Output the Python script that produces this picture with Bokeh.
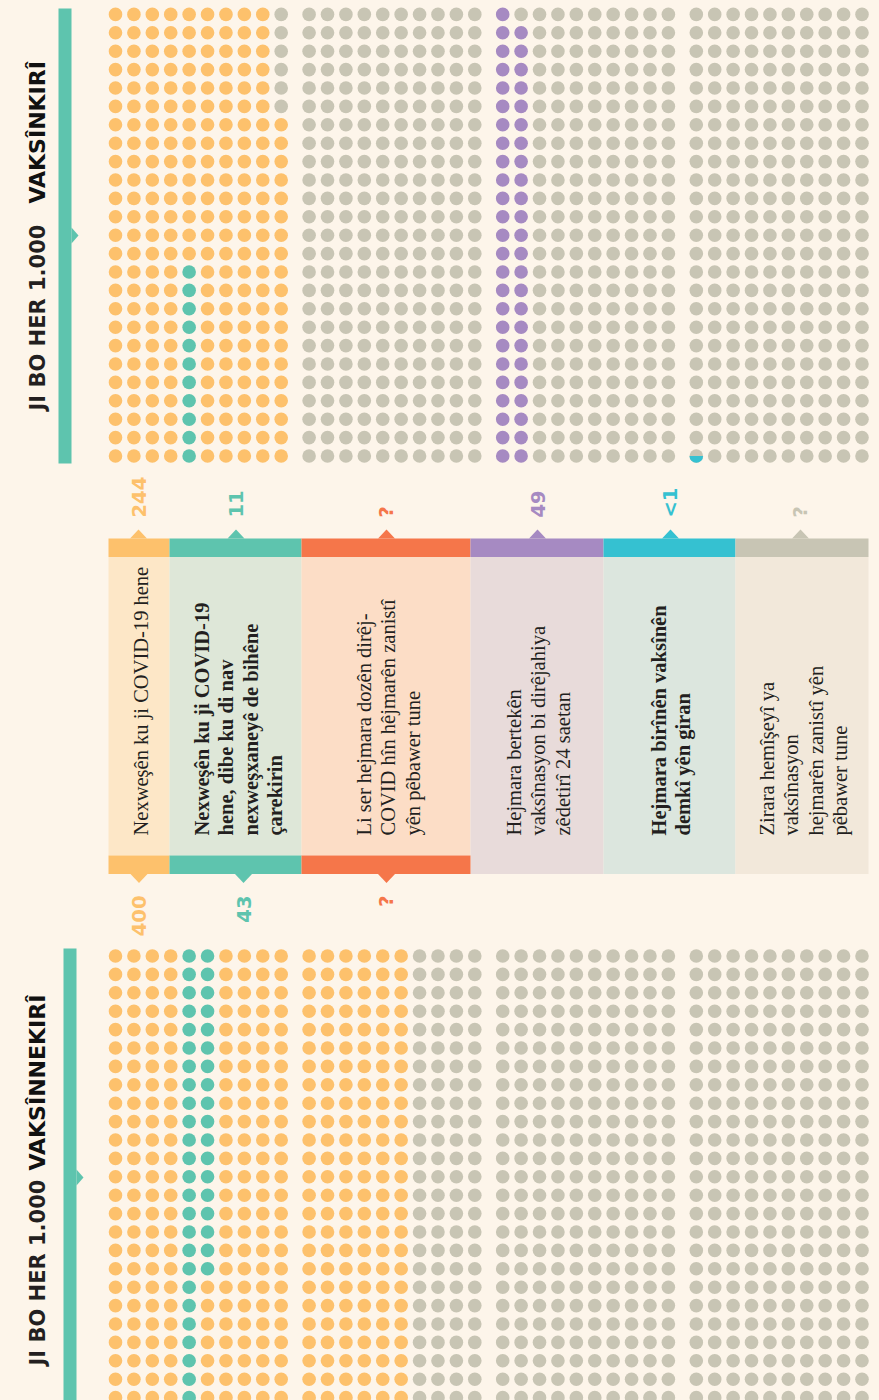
import numpy as np
from bokeh.plotting import figure
from bokeh.models import Range1d
from bokeh.core.properties import value
from bokeh.embed import file_html
from bokeh.resources import INLINE

# ---------------- data ----------------
title_lead = "JI BO HER 1.000"
group_names = ["VAKSÎNKIRÎ", "VAKSÎNNEKIRÎ"]

category_lines = [
    ["Nexweşên ku ji COVID-19 hene"],
    ["Nexweşên ku ji COVID-19", "hene, dibe ku di nav", "nexweşxaneyê de bihêne", "çarekirin"],
    ["Li ser hejmara dozên dirêj-", "COVID hîn hêjmarên zanistî", "yên pêbawer tune"],
    ["Hejmara bertekên", "vaksînasyon bi dirêjahiya", "zêdetirî 24 saetan"],
    ["Hejmara birînên vaksînên", "demkî yên giran"],
    ["Zirara hemîşeyî ya", "vaksînasyon", "hejmarên zanistî yên", "pêbawer tune"],
]
category_bold = [False, True, False, False, True, False]

vaccinated = [244, 11, None, 49, 0.5, None]
vaccinated_labels = ["244", "11", "?", "49", "<1", "?"]
unvaccinated = [400, 43, None]
unvaccinated_labels = ["400", "43", "?"]
PER = 1000

# ---------------- style ----------------
BG = "#FDF5EA"
GRAY = "#C8C5B4"
TEXT = "#231F20"
cat_colors = ["#FDC16C", "#5EC4AE", "#F5764A", "#A68AC2", "#35C1D1", "#C8C5B4"]
cat_tints = ["#FDE7C7", "#DEE7D8", "#FCDDC6", "#E8DBDA", "#DCE6DE", "#F2E8DA"]
SANS = value("DejaVu Sans")
SERIF = value("Liberation Serif")

# ---------------- layout (image pixel coordinates) ----------------
W, H = 879, 1400


def Y(v):
    return H - v


COLS, ROWS = 10, 25
X0, DX, GDX = 115.0, 18.41, 193.6
ROW_DY = 18.4
TOP_BAND_ROW = 455.5
BOT_BAND_ROW = 955.5
dot_start = [0, 100, None, 500, 750, None]


def dot_xy(i, top):
    g, w = divmod(i, COLS * ROWS)
    c, r = divmod(w, ROWS)
    x = X0 + g * GDX + c * DX
    y = TOP_BAND_ROW - r * ROW_DY if top else BOT_BAND_ROW + r * ROW_DY
    return x, Y(y)


def grid(values, top):
    cols = [GRAY] * PER
    partial = []
    for k, v in enumerate(values):
        if v is None or dot_start[k] is None:
            continue
        full = int(v)
        for i in range(dot_start[k], dot_start[k] + full):
            cols[i] = cat_colors[k]
        frac = v - full
        if frac > 0:
            partial.append((dot_start[k] + full, frac, cat_colors[k]))
    pts = [dot_xy(i, top) for i in range(PER)]
    xs = [pt[0] for pt in pts]
    ys = [pt[1] for pt in pts]
    return xs, ys, cols, partial


p = figure(width=W, height=H, output_backend="svg", toolbar_location=None,
           x_range=Range1d(0, W), y_range=Range1d(0, H), min_border=0)
p.xaxis.visible = False
p.yaxis.visible = False
p.grid.visible = False
p.outline_line_color = None
p.background_fill_color = BG
p.border_fill_color = BG

# dots
for vals, top in [(vaccinated, True), (unvaccinated, False)]:
    xs, ys, cols, partial = grid(vals, top)
    p.scatter(xs, ys, size=13.6, fill_color=cols, line_color=None)
    for idx, frac, col in partial:
        x, y = dot_xy(idx, top)
        center = -np.pi / 2 if top else np.pi / 2
        p.wedge(x=[x], y=[y], radius=6.8, radius_units="screen",
                start_angle=center - np.pi * frac, end_angle=center + np.pi * frac,
                fill_color=col, line_color=None)

# panels
edges = [108, 169, 301, 470, 603, 735, 868]
n_bot = len(unvaccinated)
STRIP_T0, STRIP_T1 = 538, 556.5
STRIP_B0, STRIP_B1 = 855, 873.5
p.quad(left=edges[:-1], right=edges[1:], top=Y(STRIP_T0), bottom=Y(STRIP_T1),
       fill_color=cat_colors, line_color=None)
p.quad(left=edges[:-1], right=edges[1:], top=Y(STRIP_T1),
       bottom=[Y(STRIP_B0) if k < n_bot else Y(STRIP_B1) for k in range(6)],
       fill_color=cat_tints, line_color=None)
p.quad(left=edges[:n_bot], right=edges[1:n_bot + 1], top=Y(STRIP_B0), bottom=Y(STRIP_B1),
       fill_color=cat_colors[:n_bot], line_color=None)

label_x_top = [138, 235.5, 386, 537, 670, 800]
label_x_bot = [138.5, 243, 386]
TW, TH = 8.5, 9
p.patches(xs=[[x - TW, x, x + TW] for x in label_x_top],
          ys=[[Y(STRIP_T0), Y(STRIP_T0 - TH), Y(STRIP_T0)] for _ in label_x_top],
          fill_color=cat_colors, line_color=None)
p.patches(xs=[[x - TW, x, x + TW] for x in label_x_bot],
          ys=[[Y(STRIP_B1), Y(STRIP_B1 + TH), Y(STRIP_B1)] for _ in label_x_bot],
          fill_color=cat_colors[:n_bot], line_color=None)

# value labels
p.text(x=label_x_top, y=[Y(517)] * 6, text=vaccinated_labels, angle=np.pi / 2,
       text_align="left", text_baseline="middle", text_font=SANS,
       text_font_style="bold", text_font_size="19.5px", text_color=cat_colors)
p.text(x=label_x_bot, y=[Y(895)] * 3, text=unvaccinated_labels, angle=np.pi / 2,
       text_align="right", text_baseline="middle", text_font=SANS,
       text_font_style="bold", text_font_size="19.5px", text_color=cat_colors[:n_bot])

# category texts
first_line_x = [140, 201, 363, 513, 658, 766]
LINE_DX = 24.5
for k, lines in enumerate(category_lines):
    p.text(x=[first_line_x[k] + i * LINE_DX for i in range(len(lines))],
           y=[Y(835)] * len(lines), text=lines, angle=np.pi / 2,
           text_align="left", text_baseline="middle", text_font=SERIF,
           text_font_style="bold" if category_bold[k] else "normal",
           text_font_size="20.5px", text_color=TEXT)

# titles and side bars
TEAL = cat_colors[1]
for (bx, y0, y1, ny, lead_y, name_y, name) in [
        (58, 8, 463, 235, 410, 203, group_names[0]),
        (63, 948, 1400, 1177, 1365, 1170, group_names[1])]:
    p.quad(left=bx, right=bx + 13, top=Y(y0), bottom=Y(y1), fill_color=TEAL, line_color=None)
    p.patches(xs=[[bx + 13, bx + 20, bx + 13]], ys=[[Y(ny - 8), Y(ny), Y(ny + 8)]],
              fill_color=TEAL, line_color=None)
    p.text(x=[37], y=[Y(lead_y)], text=[title_lead], angle=np.pi / 2,
           text_align="left", text_baseline="middle", text_font=SANS,
           text_font_style="bold", text_font_size="21px", text_color=TEXT)
    p.text(x=[37], y=[Y(name_y)], text=[name], angle=np.pi / 2,
           text_align="left", text_baseline="middle", text_font=SANS,
           text_font_style="bold", text_font_size="22px", text_color="#111111")

html = file_html(p, INLINE)
html = html.replace("</head>", "<style>body{background:%s;}</style></head>" % BG, 1)
open("out.html", "w").write(html)
